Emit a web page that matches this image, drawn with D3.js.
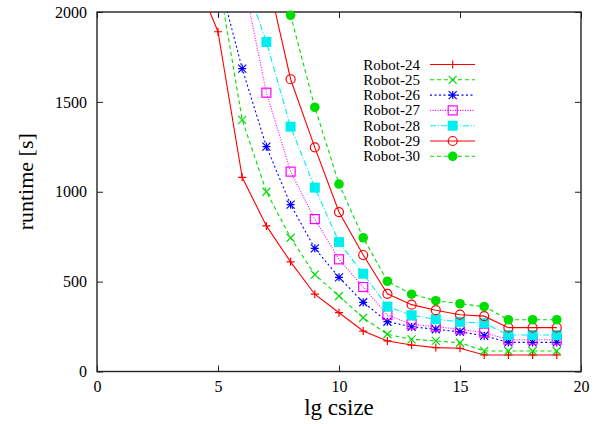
<!DOCTYPE html>
<html>
<head>
<meta charset="utf-8">
<script src="https://cdn.jsdelivr.net/npm/d3@7"></script>
<style>
  html, body { margin: 0; padding: 0; background: #fff; }
  svg { display: block; }
  text { font-family: "Liberation Serif", "DejaVu Serif", serif; fill: #000; }
</style>
</head>
<body>
<svg id="chart" width="600" height="424"></svg>
<script>
// lg csize values (x) shared by every series; null = no measurement
const lgCsize = [4, 5, 6, 7, 8, 9, 10, 11, 12, 13, 14, 15, 16, 17, 18, 19];

const seriesNames = ["Robot-24", "Robot-25", "Robot-26", "Robot-27", "Robot-28", "Robot-29", "Robot-30"];

// runtime [s] per series, aligned with lgCsize
const robot24 = [2220, 1890, 1080, 810, 610, 430, 327, 225, 170, 147, 133, 129, 92, 92, 92, 92];
const robot25 = [null, 2200, 1400, 1000, 744, 539, 420, 299, 207, 179, 170, 160, 114, 114, 114, 114];
const robot26 = [null, 2200, 1685, 1251, 928, 685, 524, 385, 277, 249, 235, 221, 199, 162, 162, 162];
const robot27 = [null, null, 2211, 1551, 1112, 848, 624, 470, 314, 263, 249, 235, 216, 177, 177, 177];
const robot28 = [null, null, 2220, 1833, 1362, 1023, 720, 544, 361, 313, 291, 276, 269, 203, 203, 203];
const robot29 = [null, null, null, 2220, 1626, 1247, 887, 648, 432, 372, 341, 316, 308, 244, 244, 244];
const robot30 = [null, null, null, 2220, 1982, 1470, 1043, 744, 502, 430, 394, 377, 361, 288, 288, 288];

const xTicks = [0, 5, 10, 15, 20];
const yTicks = [0, 500, 1000, 1500, 2000];

const allValues = [robot24, robot25, robot26, robot27, robot28, robot29, robot30];

// per-series line style and point symbol
const styles = [
  { color: "#ff0000", dash: null,      marker: "plus" },
  { color: "#00dd00", dash: "4,3",     marker: "cross" },
  { color: "#0000ff", dash: "2,2.5",   marker: "star" },
  { color: "#ff00ff", dash: "1,1.5",   marker: "openSquare" },
  { color: "#00eeee", dash: "6,2,1,2", marker: "filledSquare" },
  { color: "#ff0000", dash: null,      marker: "openCircle" },
  { color: "#00dd00", dash: "4,3",     marker: "filledCircle" }
];

const serif = "'Liberation Serif', 'DejaVu Serif', serif";
const svg = d3.select("#chart");
const plotLeft = 97, plotRight = 581, plotTop = 12, plotBottom = 371.5;

const x = d3.scaleLinear().domain([0, 20]).range([plotLeft, plotRight]);
const y = d3.scaleLinear().domain([0, 2000]).range([plotBottom, plotTop]);

svg.append("defs").append("clipPath").attr("id", "plotClip")
  .append("rect").attr("x", plotLeft).attr("y", plotTop)
  .attr("width", plotRight - plotLeft).attr("height", plotBottom - plotTop);

// axes with inward ticks, mirrored on top and right
const tickLen = 6;
const fmt = d3.format("d");
const axisStyle = g => {
  g.attr("font-family", serif).attr("font-size", 16);
  g.select(".domain").remove();
  g.selectAll(".tick line").attr("stroke", "#222").attr("stroke-width", 1);
  g.selectAll(".tick text").attr("font-family", serif).style("font-family", serif)
    .style("font-size", "16px");
};

svg.append("g").attr("transform", `translate(0,${plotBottom})`)
  .call(d3.axisBottom(x).tickValues(xTicks).tickSize(-tickLen).tickPadding(9).tickFormat(fmt))
  .call(axisStyle);
svg.append("g").attr("transform", `translate(0,${plotTop})`)
  .call(d3.axisTop(x).tickValues(xTicks).tickSize(-tickLen).tickFormat(""))
  .call(axisStyle);
svg.append("g").attr("transform", `translate(${plotLeft},0)`)
  .call(d3.axisLeft(y).tickValues(yTicks).tickSize(-tickLen).tickPadding(10).tickFormat(fmt))
  .call(axisStyle);
svg.append("g").attr("transform", `translate(${plotRight},0)`)
  .call(d3.axisRight(y).tickValues(yTicks).tickSize(-tickLen).tickFormat(""))
  .call(axisStyle);

svg.append("rect").attr("x", plotLeft).attr("y", plotTop)
  .attr("width", plotRight - plotLeft).attr("height", plotBottom - plotTop)
  .attr("fill", "none").attr("stroke", "#222").attr("stroke-width", 1.4);

// axis titles
svg.append("text").attr("x", (plotLeft + plotRight) / 2).attr("y", 415)
  .attr("text-anchor", "middle").style("font-family", serif).style("font-size", "23px").text("lg csize");
svg.append("text")
  .attr("transform", `translate(33,${(plotTop + plotBottom) / 2 - 10}) rotate(-90)`)
  .attr("text-anchor", "middle").style("font-family", serif).style("font-size", "22px").text("runtime [s]");

// symbol drawing
function drawMarker(g, type, cx, cy, color) {
  const s = 4;
  switch (type) {
    case "plus":
      g.append("path").attr("d", `M${cx - s},${cy}H${cx + s}M${cx},${cy - s}V${cy + s}`)
        .attr("stroke", color).attr("stroke-width", 1.2).attr("fill", "none");
      break;
    case "cross":
      g.append("path").attr("d", `M${cx - s},${cy - s}L${cx + s},${cy + s}M${cx - s},${cy + s}L${cx + s},${cy - s}`)
        .attr("stroke", color).attr("stroke-width", 1.2).attr("fill", "none");
      break;
    case "star":
      g.append("path").attr("d",
        `M${cx - s},${cy}H${cx + s}M${cx},${cy - s}V${cy + s}` +
        `M${cx - s},${cy - s}L${cx + s},${cy + s}M${cx - s},${cy + s}L${cx + s},${cy - s}`)
        .attr("stroke", color).attr("stroke-width", 1.2).attr("fill", "none");
      break;
    case "openSquare":
      g.append("rect").attr("x", cx - 4.5).attr("y", cy - 4.5).attr("width", 9).attr("height", 9)
        .attr("stroke", color).attr("stroke-width", 1.2).attr("fill", "none");
      break;
    case "filledSquare":
      g.append("rect").attr("x", cx - 5).attr("y", cy - 5).attr("width", 10).attr("height", 10)
        .attr("fill", color);
      break;
    case "openCircle":
      g.append("circle").attr("cx", cx).attr("cy", cy).attr("r", 4.5)
        .attr("stroke", color).attr("stroke-width", 1.2).attr("fill", "none");
      break;
    case "filledCircle":
      g.append("circle").attr("cx", cx).attr("cy", cy).attr("r", 4.8).attr("fill", color);
      break;
  }
}

const line = d3.line()
  .defined(d => d.v !== null)
  .x(d => x(d.x)).y(d => y(d.v));

seriesNames.forEach((name, i) => {
  const st = styles[i];
  const pts = lgCsize.map((lx, j) => ({ x: lx, v: allValues[i][j] }));
  const g = svg.append("g");
  g.append("path").datum(pts)
    .attr("clip-path", "url(#plotClip)")
    .attr("d", line)
    .attr("fill", "none").attr("stroke", st.color).attr("stroke-width", 1.1)
    .attr("stroke-dasharray", st.dash);
  pts.filter(p => p.v !== null && p.v <= 2000)
    .forEach(p => drawMarker(g, st.marker, x(p.x), y(p.v), st.color));
});

// legend
const legX = 420, legY0 = 64.5, legDy = 15.3;
seriesNames.forEach((name, i) => {
  const st = styles[i];
  const yy = legY0 + i * legDy;
  const g = svg.append("g");
  g.append("text").attr("x", legX).attr("y", yy + 5)
    .attr("text-anchor", "end").style("font-family", serif).style("font-size", "15px").text(name);
  g.append("line").attr("x1", 430).attr("x2", 475).attr("y1", yy).attr("y2", yy)
    .attr("stroke", st.color).attr("stroke-width", 1.1).attr("stroke-dasharray", st.dash);
  drawMarker(g, st.marker, 452.7, yy, st.color);
});
</script>
</body>
</html>
